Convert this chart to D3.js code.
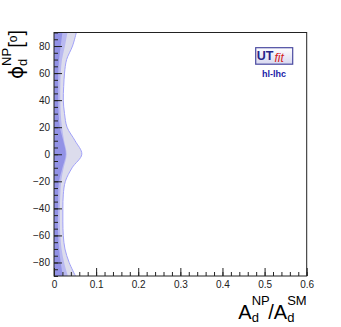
<!DOCTYPE html>
<html>
<head>
<meta charset="utf-8">
<script src="https://cdn.jsdelivr.net/npm/d3@7"></script>
<style>
  body { margin: 0; background: #fff; }
  svg { display: block; font-family: "Liberation Sans", Arial, sans-serif; }
</style>
</head>
<body>
<svg width="341" height="327"></svg>
<script>
// phi_d^NP grid (degrees) and region edges in A_d^NP/A_d^SM
var phiGrid  = [90, 80, 70, 60, 50, 40, 30, 20, 10, 0, -10, -20, -30, -40, -50, -60, -70, -80, -90];
var outerX   = [0.053, 0.044, 0.030, 0.025, 0.023, 0.022, 0.025, 0.031, 0.050, 0.066, 0.043, 0.027, 0.022, 0.021, 0.021, 0.022, 0.026, 0.036, 0.051];
var middleX  = [0.032, 0.026, 0.019, 0.016, 0.015, 0.015, 0.016, 0.019, 0.024, 0.030, 0.023, 0.017, 0.015, 0.014, 0.014, 0.015, 0.018, 0.024, 0.033];
var innerX   = [0.020, 0.016, 0.012, 0.010, 0.010, 0.010, 0.011, 0.014, 0.022, 0.028, 0.020, 0.012, 0.010, 0.010, 0.009, 0.010, 0.012, 0.016, 0.021];

var xTicks = [0, 0.1, 0.2, 0.3, 0.4, 0.5, 0.6];
var yTicks = [-80, -60, -40, -20, 0, 20, 40, 60, 80];

var svg = d3.select("svg");
var margin = {left: 54, right: 34.3, top: 32.5, bottom: 51};
var W = 341, H = 327;

var x = d3.scaleLinear().domain([0, 0.6]).range([margin.left, W - margin.right]);
var y = d3.scaleLinear().domain([-90, 90]).range([H - margin.bottom, margin.top]);

var defs = svg.append("defs");
defs.append("clipPath").attr("id", "clip")
  .append("rect")
  .attr("x", x(0)).attr("y", y(90))
  .attr("width", x(0.6) - x(0)).attr("height", y(-90) - y(90));

var plot = svg.append("g").attr("clip-path", "url(#clip)");

function region(vals) {
  return d3.area()
    .y(function(d, i) { return y(phiGrid[i]); })
    .x0(x(0))
    .x1(function(d) { return x(d); })
    .curve(d3.curveCatmullRom)(vals);
}
function edge(vals) {
  return d3.line()
    .y(function(d, i) { return y(phiGrid[i]); })
    .x(function(d) { return x(d); })
    .curve(d3.curveCatmullRom)(vals);
}

plot.append("path").attr("d", region(outerX)).attr("fill", "#dcdcec");
plot.append("path").attr("d", edge(outerX)).attr("fill", "none")
  .attr("stroke", "#a0a0f8").attr("stroke-width", 1);
plot.append("path").attr("d", region(middleX)).attr("fill", "#b8b8f0");
plot.append("path").attr("d", region(innerX)).attr("fill", "#9292e6");

// frame
svg.append("rect")
  .attr("x", x(0)).attr("y", y(90))
  .attr("width", x(0.6) - x(0)).attr("height", y(-90) - y(90))
  .attr("fill", "none").attr("stroke", "#222").attr("stroke-width", 1);

// axes (ticks point inside, ROOT style)
svg.append("g").attr("transform", "translate(0," + y(-90) + ")")
  .call(d3.axisBottom(x).tickValues(d3.range(0, 0.6001, 0.02)).tickSize(-4).tickFormat(""));
svg.append("g").attr("transform", "translate(0," + y(-90) + ")")
  .call(d3.axisBottom(x).tickValues(xTicks).tickSize(-8).tickPadding(5)
    .tickFormat(function(d) { return d === 0 ? "0" : d3.format(".1f")(d); }));
svg.append("g").attr("transform", "translate(" + x(0) + ",0)")
  .call(d3.axisLeft(y).tickValues(d3.range(-90, 90.01, 5)).tickSize(-4).tickFormat(""));
svg.append("g").attr("transform", "translate(" + x(0) + ",0)")
  .call(d3.axisLeft(y).tickValues(yTicks).tickSize(-8).tickPadding(4));

svg.selectAll(".domain").remove();
svg.selectAll(".tick line").attr("stroke", "#222");
svg.selectAll(".tick text").attr("font-size", 10).attr("fill", "#222")
  .attr("font-family", "Liberation Sans, Arial, sans-serif");

// x axis title
var xt = svg.append("text")
  .attr("x", x(0.6)).attr("y", 319)
  .attr("text-anchor", "end").attr("font-size", 20).attr("fill", "#000");
xt.append("tspan").text("A");
xt.append("tspan").attr("font-size", 13).attr("dy", 3).text("d");
xt.append("tspan").attr("font-size", 13).attr("dx", -7.2).attr("dy", -17).text("NP");
xt.append("tspan").attr("dx", -1.5).attr("dy", 14).text("/A");
xt.append("tspan").attr("font-size", 13).attr("dy", 3).text("d");
xt.append("tspan").attr("font-size", 13).attr("dx", -7.2).attr("dy", -17).text("SM");

// y axis title
var yt = svg.append("text")
  .attr("transform", "translate(23,30) rotate(-90)")
  .attr("text-anchor", "end").attr("font-size", 20).attr("fill", "#000");
yt.append("tspan").attr("font-family", "DejaVu Sans").text("\u03D5");
yt.append("tspan").attr("font-size", 13).attr("dy", 4).text("d");
yt.append("tspan").attr("font-size", 13).attr("dx", -7.2).attr("dy", -16).text("NP");
yt.append("tspan").attr("dy", 12).text("[");
yt.append("tspan").attr("font-size", 12).attr("dy", -6).text("o");
yt.append("tspan").attr("dy", 6).text("]");

// UTfit logo
var grad = defs.append("linearGradient").attr("id", "lg")
  .attr("x1", 0).attr("y1", 0).attr("x2", 0).attr("y2", 1);
grad.append("stop").attr("offset", "0%").attr("stop-color", "#ffffff");
grad.append("stop").attr("offset", "100%").attr("stop-color", "#d8d8f0");
var logo = svg.append("g");
logo.append("rect").attr("x", 255.7).attr("y", 47.7).attr("width", 37).attr("height", 16.5)
  .attr("fill", "url(#lg)").attr("stroke", "#4a4aa0").attr("stroke-width", 1.2);
logo.append("text").attr("x", 256.8).attr("y", 59.5)
  .attr("font-size", 12.5).attr("font-weight", "bold").attr("fill", "#26268a").text("UT");
logo.append("text").attr("x", 274.5).attr("y", 61.5)
  .attr("font-size", 12).attr("font-style", "italic").attr("fill", "#d42020").text("fit");
logo.append("text").attr("x", 274).attr("y", 76.5).attr("text-anchor", "middle")
  .attr("font-size", 9).attr("font-weight", "bold").attr("fill", "#1a1aa8").text("hl-lhc");
</script>
</body>
</html>
